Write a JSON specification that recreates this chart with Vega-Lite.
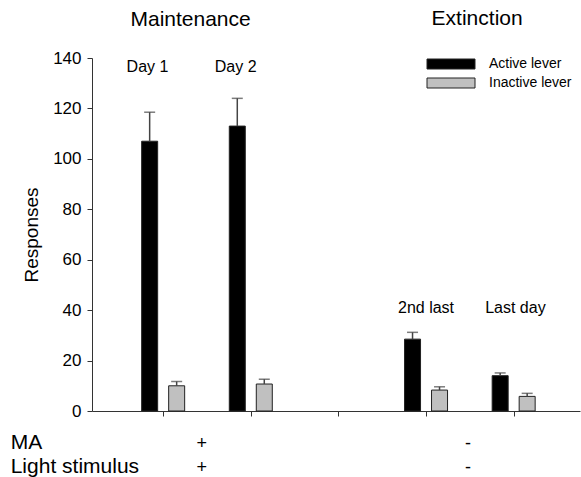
{
  "$schema": "https://vega.github.io/schema/vega-lite/v6.json",
  "width": 488,
  "height": 353,
  "autosize": {"type": "none"},
  "padding": {"left": 92, "top": 58, "right": 1, "bottom": 66},
  "config": {
    "font": "Liberation Sans",
    "view": {"stroke": null},
    "axis": {"grid": false, "domainColor": "#333", "tickColor": "#333", "labelColor": "#000", "titleColor": "#000", "labelFont": "Liberation Sans", "titleFont": "Liberation Sans"}
  },
  "datasets": {
    "bars": [
      {"group": "Day 1", "pos": 1, "lever": "Active lever", "value": 107, "upper": 118.5},
      {"group": "Day 1", "pos": 1, "lever": "Inactive lever", "value": 10, "upper": 11.7},
      {"group": "Day 2", "pos": 2, "lever": "Active lever", "value": 113, "upper": 124},
      {"group": "Day 2", "pos": 2, "lever": "Inactive lever", "value": 10.7, "upper": 12.6},
      {"group": "2nd last", "pos": 4, "lever": "Active lever", "value": 28.5, "upper": 31.2},
      {"group": "2nd last", "pos": 4, "lever": "Inactive lever", "value": 8.3, "upper": 9.6},
      {"group": "Last day", "pos": 5, "lever": "Active lever", "value": 14, "upper": 15.1},
      {"group": "Last day", "pos": 5, "lever": "Inactive lever", "value": 5.8, "upper": 7}
    ],
    "labels": [
      {"kind": "phase", "text": "Maintenance", "x": 1.313, "y": 152.7},
      {"kind": "phase", "text": "Extinction", "x": 4.583, "y": 153.1},
      {"kind": "day", "text": "Day 1", "x": 0.821, "y": 134.5},
      {"kind": "day", "text": "Day 2", "x": 1.827, "y": 134.5},
      {"kind": "day", "text": "2nd last", "x": 4.0, "y": 39.0},
      {"kind": "day", "text": "Last day", "x": 5.02, "y": 39.0},
      {"kind": "row", "text": "MA", "x": -0.74, "y": -15.2},
      {"kind": "row", "text": "Light stimulus", "x": -0.74, "y": -24.6},
      {"kind": "sign", "text": "+", "x": 1.44, "y": -15.2},
      {"kind": "sign", "text": "+", "x": 1.44, "y": -24.6},
      {"kind": "sign", "text": "-", "x": 4.48, "y": -15.2},
      {"kind": "sign", "text": "-", "x": 4.48, "y": -24.6}
    ]
  },
  "layer": [
    {
      "data": {"name": "bars"},
      "transform": [{"filter": "datum.lever === 'Active lever'"}],
      "mark": {"type": "bar", "width": 16, "xOffset": -13.5, "stroke": "#222", "strokeWidth": 1},
      "encoding": {
        "x": {"field": "pos", "type": "quantitative", "scale": {"domain": [0.245, 5.7], "nice": false, "zero": false},
              "axis": {"values": [1, 2, 3, 4, 5], "labels": false, "title": null, "tickSize": 5}},
        "y": {"field": "value", "type": "quantitative", "scale": {"domain": [0, 140], "nice": false},
              "axis": {"values": [0, 20, 40, 60, 80, 100, 120, 140], "title": "Responses", "tickSize": 5, "labelPadding": 6,
                       "labelFontSize": 17, "titleFontSize": 19, "titleFontWeight": "normal", "titlePadding": 11}},
        "color": {"field": "lever", "type": "nominal",
                  "scale": {"domain": ["Active lever", "Inactive lever"], "range": ["#000000", "#c0c0c0"]},
                  "legend": {"title": null, "orient": "none", "legendX": 352, "legendY": -1, "padding": 0,
                             "symbolType": "M-4.8,-1H4.8V1H-4.8Z", "symbolSize": 100, "symbolStrokeColor": "#222", "symbolStrokeWidth": 1,
                             "labelFontSize": 14, "labelFont": "Liberation Sans", "labelColor": "#000", "labelOffset": 31, "rowPadding": 5}}
      }
    },
    {
      "data": {"name": "bars"},
      "transform": [{"filter": "datum.lever === 'Inactive lever'"}],
      "mark": {"type": "bar", "width": 16, "xOffset": 13.5, "stroke": "#222", "strokeWidth": 1},
      "encoding": {
        "x": {"field": "pos", "type": "quantitative"},
        "y": {"field": "value", "type": "quantitative"},
        "color": {"field": "lever", "type": "nominal"}
      }
    },
    {
      "data": {"name": "bars"},
      "transform": [{"filter": "datum.lever === 'Active lever'"}],
      "mark": {"type": "rule", "xOffset": -13.5, "color": "#444", "strokeWidth": 1.5},
      "encoding": {
        "x": {"field": "pos", "type": "quantitative"},
        "y": {"field": "value", "type": "quantitative"},
        "y2": {"field": "upper"}
      }
    },
    {
      "data": {"name": "bars"},
      "transform": [{"filter": "datum.lever === 'Inactive lever'"}],
      "mark": {"type": "rule", "xOffset": 13.5, "color": "#444", "strokeWidth": 1.5},
      "encoding": {
        "x": {"field": "pos", "type": "quantitative"},
        "y": {"field": "value", "type": "quantitative"},
        "y2": {"field": "upper"}
      }
    },
    {
      "data": {"name": "bars"},
      "transform": [{"filter": "datum.lever === 'Active lever'"}],
      "mark": {"type": "tick", "orient": "horizontal", "size": 11, "thickness": 1.5, "xOffset": -13.5, "color": "#444"},
      "encoding": {
        "x": {"field": "pos", "type": "quantitative"},
        "y": {"field": "upper", "type": "quantitative"}
      }
    },
    {
      "data": {"name": "bars"},
      "transform": [{"filter": "datum.lever === 'Inactive lever'"}],
      "mark": {"type": "tick", "orient": "horizontal", "size": 11, "thickness": 1.5, "xOffset": 13.5, "color": "#444"},
      "encoding": {
        "x": {"field": "pos", "type": "quantitative"},
        "y": {"field": "upper", "type": "quantitative"}
      }
    },
    {
      "data": {"name": "labels"},
      "transform": [{"filter": "datum.kind === 'phase'"}],
      "mark": {"type": "text", "fontSize": 21, "align": "center", "baseline": "alphabetic", "color": "#000"},
      "encoding": {
        "x": {"field": "x", "type": "quantitative"},
        "y": {"field": "y", "type": "quantitative"},
        "text": {"field": "text"}
      }
    },
    {
      "data": {"name": "labels"},
      "transform": [{"filter": "datum.kind === 'day'"}],
      "mark": {"type": "text", "fontSize": 16, "align": "center", "baseline": "alphabetic", "color": "#000"},
      "encoding": {
        "x": {"field": "x", "type": "quantitative"},
        "y": {"field": "y", "type": "quantitative"},
        "text": {"field": "text"}
      }
    },
    {
      "data": {"name": "labels"},
      "transform": [{"filter": "datum.kind === 'row'"}],
      "mark": {"type": "text", "fontSize": 21, "align": "left", "baseline": "alphabetic", "color": "#000"},
      "encoding": {
        "x": {"field": "x", "type": "quantitative"},
        "y": {"field": "y", "type": "quantitative"},
        "text": {"field": "text"}
      }
    },
    {
      "data": {"name": "labels"},
      "transform": [{"filter": "datum.kind === 'sign'"}],
      "mark": {"type": "text", "fontSize": 18, "align": "center", "baseline": "alphabetic", "color": "#000"},
      "encoding": {
        "x": {"field": "x", "type": "quantitative"},
        "y": {"field": "y", "type": "quantitative"},
        "text": {"field": "text"}
      }
    }
  ]
}
